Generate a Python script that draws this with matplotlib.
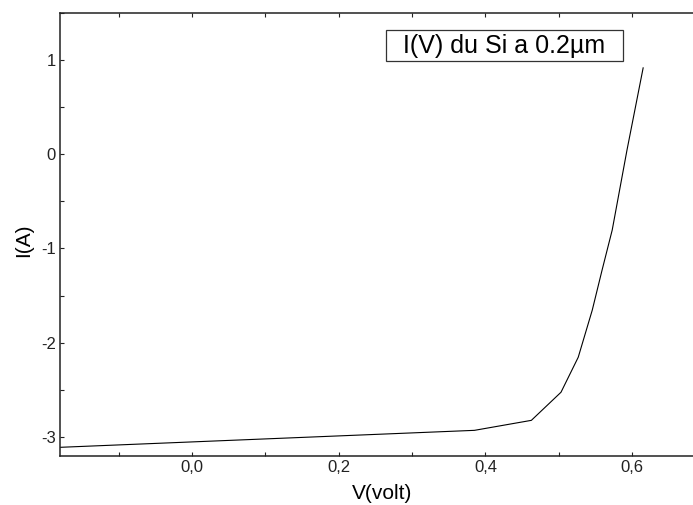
import matplotlib
matplotlib.use("Agg")
import matplotlib.pyplot as plt
from matplotlib.ticker import MultipleLocator, FuncFormatter
from matplotlib.patches import Rectangle

plt.rcParams['font.family'] = ['Liberation Sans', 'DejaVu Sans']
plt.rcParams['axes.unicode_minus'] = False

# Data
voltage = [-0.18, 0.385, 0.4626, 0.503, 0.5265, 0.5456, 0.559, 0.5728, 0.593, 0.615]
current = [-3.108, -2.928, -2.822, -2.524, -2.153, -1.654, -1.229, -0.805, 0.045, 0.915]
legend_text = "I(V) du Si a 0.2µm"
xlabel = "V(volt)"
ylabel = "I(A)"

W, H = 693, 505
fig = plt.figure(figsize=(W / 100, H / 100), dpi=100)
left, right, top, bottom = 60, 705.5, 12.7, 456
ax = fig.add_axes([left / W, 1 - bottom / H, (right - left) / W, (bottom - top) / H])

ax.plot(voltage, current, color='black', lw=0.8)

ax.set_xlim(-0.18, 0.7)
ax.set_ylim(-3.2, 1.5)

ax.xaxis.set_major_locator(MultipleLocator(0.2))
ax.xaxis.set_minor_locator(MultipleLocator(0.1))
ax.yaxis.set_major_locator(MultipleLocator(1))
ax.yaxis.set_minor_locator(MultipleLocator(0.5))
ax.xaxis.set_major_formatter(FuncFormatter(lambda v, p: f"{v:.1f}".replace('.', ',').replace('-0,0', '0,0')))
ax.yaxis.set_major_formatter(FuncFormatter(lambda v, p: f"{int(round(v))}"))

ax.spines['right'].set_visible(False)
for s in ['left', 'top', 'bottom']:
    ax.spines[s].set_linewidth(1.1)
    ax.spines[s].set_color('#222222')

ax.tick_params(axis='both', which='both', direction='in', length=3, width=0.8,
               labelsize=12, colors='#222222', pad=3)
ax.tick_params(axis='x', which='both', top=True)
ax.tick_params(axis='y', which='both', right=False)

ax.set_xlabel(xlabel, fontsize=15)
ax.set_ylabel(ylabel, fontsize=15)
ax.xaxis.set_label_coords(0.499, -0.0857)
ax.xaxis.label.set_va('center')
ax.yaxis.set_label_coords(-0.056, 0.487)
ax.yaxis.label.set_va('center')

# legend-like box
bx0, by0, bx1, by1 = 386, 30, 623, 61
fig.patches.append(Rectangle((bx0 / W, 1 - by1 / H), (bx1 - bx0) / W, (by1 - by0) / H,
                             transform=fig.transFigure, fill=True, facecolor='white',
                             edgecolor='#333333', linewidth=0.9))
fig.text((bx0 + bx1) / 2 / W, 1 - (by0 + by1) / 2 / H, legend_text, fontsize=18,
         ha='center', va='center', color='black')

fig.savefig("out.png", dpi=100)
